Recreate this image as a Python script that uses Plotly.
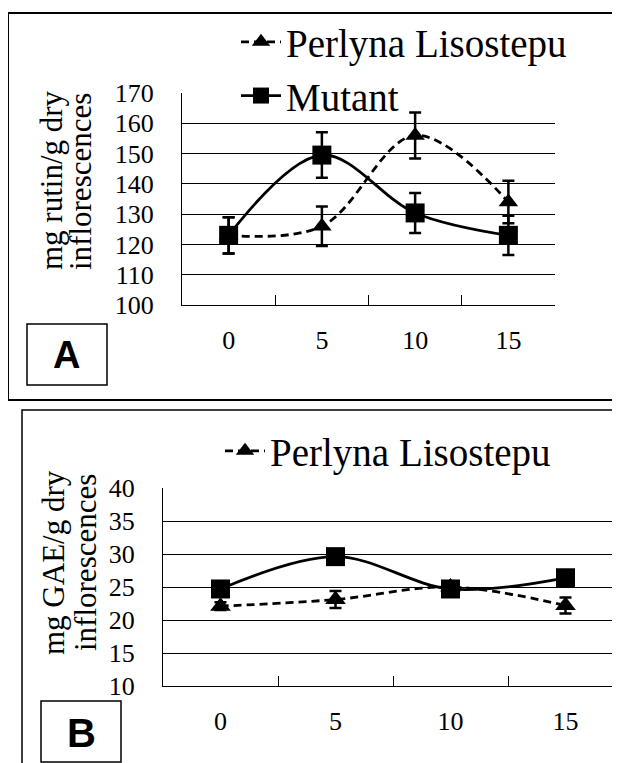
import plotly.graph_objects as go

W, H = 620, 763
OFF = 8  # page body margin of the html page

# ---- data ----
days = ["0", "5", "10", "15"]

# Panel A: mg rutin / g dry inflorescences
rutin_perlyna = [123, 126, 156, 134]
rutin_perlyna_err = [6, 6.5, 7.6, 7]
rutin_mutant = [123, 149.5, 130.4, 123]
rutin_mutant_err = [6, 7.5, 6.6, 6.5]

# Panel B: mg GAE / g dry inflorescences
gae_perlyna = [22.1, 23.1, 25.0, 22.2]
gae_perlyna_err = [0.6, 1.3, 0.5, 1.2]
gae_mutant = [24.7, 29.6, 24.7, 26.4]
gae_mutant_err = [0.8, 1.0, 0.8, 0.8]

a_ticks = [100, 110, 120, 130, 140, 150, 160, 170]
b_ticks = [10, 15, 20, 25, 30, 35, 40]

SERIF = "Liberation Serif"
SANS = "Liberation Sans"


def px(x):
    return (x - OFF) / W


def py(y):
    return 1 - (y - OFF) / H


fig = go.Figure()

LW = 2.8
err_style = dict(type="data", thickness=2.5, width=6, color="black", visible=True)

fig.add_trace(go.Scatter(
    x=days, y=rutin_perlyna, name="Perlyna Lisostepu", mode="lines+markers",
    line=dict(color="black", width=LW, dash="8px,5px", shape="spline"),
    marker=dict(symbol="triangle-up", size=17, color="black"),
    error_y=dict(array=rutin_perlyna_err, **err_style),
    xaxis="x", yaxis="y", legend="legend", legendgroup="p"))
fig.add_trace(go.Scatter(
    x=days, y=rutin_mutant, name="Mutant", mode="lines+markers",
    line=dict(color="black", width=LW, shape="spline"),
    marker=dict(symbol="square", size=19, color="black"),
    error_y=dict(array=rutin_mutant_err, **err_style),
    xaxis="x", yaxis="y", legend="legend", legendgroup="m"))

fig.add_trace(go.Scatter(
    x=days, y=gae_perlyna, name="Perlyna Lisostepu", mode="lines+markers",
    line=dict(color="black", width=LW, dash="8px,5px", shape="spline"),
    marker=dict(symbol="triangle-up", size=18, color="black"),
    error_y=dict(array=gae_perlyna_err, **err_style),
    xaxis="x2", yaxis="y2", legend="legend2"))
fig.add_trace(go.Scatter(
    x=days, y=gae_mutant, name="Mutant", mode="lines+markers",
    line=dict(color="black", width=LW, shape="spline"),
    marker=dict(symbol="square", size=19, color="black"),
    error_y=dict(array=gae_mutant_err, **err_style),
    xaxis="x2", yaxis="y2", showlegend=False))

tickfont = dict(family=SERIF, size=26, color="black")

xcommon = dict(type="category", categoryorder="array", categoryarray=days,
               showline=True, linecolor="black", linewidth=1.2, showgrid=False,
               ticks="inside", tickson="boundaries", ticklen=10, tickcolor="black",
               tickwidth=1, tickfont=tickfont, ticklabelstandoff=12, zeroline=False,
               automargin=False, range=[-0.5, 3.5])

fig.update_layout(
    width=W, height=H, margin=dict(l=0, r=0, t=0, b=0, autoexpand=False),
    paper_bgcolor="white", plot_bgcolor="white",
    xaxis=dict(domain=[px(182), px(555)], anchor="y", **xcommon),
    yaxis=dict(domain=[py(305), py(93)], range=[100, 170], anchor="x",
               tickvals=a_ticks, showline=True, linecolor="black", linewidth=1.2,
               ticks="inside", ticklen=8, tickcolor="black", tickfont=tickfont,
               ticklabelstandoff=22, showgrid=False, zeroline=False, automargin=False,
               minor=dict(tickvals=a_ticks[1:-1], showgrid=True, gridcolor="black",
                          gridwidth=1, ticks="")),
    xaxis2=dict(domain=[px(163), px(623)], anchor="y2", **xcommon),
    yaxis2=dict(domain=[py(686), py(488)], range=[10, 40], anchor="x2",
                tickvals=b_ticks, showline=True, linecolor="black", linewidth=1.2,
                ticks="inside", ticklen=8, tickcolor="black", tickfont=tickfont,
                ticklabelstandoff=22, showgrid=False, zeroline=False, automargin=False,
                minor=dict(tickvals=b_ticks[1:-1], showgrid=True, gridcolor="black",
                           gridwidth=1, ticks="")),
    legend=dict(x=px(236), y=py(10), xanchor="left", yanchor="top",
                font=dict(family=SERIF, size=39, color="black"),
                bgcolor="rgba(0,0,0,0)", tracegroupgap=0, itemwidth=40),
    legend2=dict(x=px(220), y=py(419), xanchor="left", yanchor="top",
                 font=dict(family=SERIF, size=39, color="black"),
                 bgcolor="rgba(0,0,0,0)", itemwidth=40),
    showlegend=True,
)

# panel frames and letter boxes
shapes = [
    dict(type="rect", xref="paper", yref="paper", x0=px(8), x1=1.05, y0=py(400), y1=py(13),
         line=dict(color="black", width=2)),
    dict(type="rect", xref="paper", yref="paper", x0=px(22), x1=1.05, y0=-0.05, y1=py(410),
         line=dict(color="black", width=1.5)),
    dict(type="rect", xref="paper", yref="paper", x0=px(27), x1=px(107), y0=py(385), y1=py(324),
         line=dict(color="black", width=1.5)),
    dict(type="rect", xref="paper", yref="paper", x0=px(41), x1=px(121), y0=py(762), y1=py(701),
         line=dict(color="black", width=1.5)),
]
fig.update_layout(shapes=shapes)

ann_font = dict(family=SERIF, size=31, color="black")
common_ann = dict(xref="paper", yref="paper", showarrow=False,
                  xanchor="center", yanchor="middle")
annotations = [
    dict(text="mg rutin/g dry", x=px(51), y=py(180), textangle=-90, font=ann_font, **common_ann),
    dict(text="inflorescences", x=px(81), y=py(182), textangle=-90, font=ann_font, **common_ann),
    dict(text="mg GAE/g dry", x=px(53), y=py(563), textangle=-90, font=ann_font, **common_ann),
    dict(text="inflorescences", x=px(85), y=py(563), textangle=-90, font=ann_font, **common_ann),
    dict(text="<b>A</b>", x=px(67), y=py(355), font=dict(family=SANS, size=38, color="black"),
         **common_ann),
    dict(text="<b>B</b>", x=px(81), y=py(733), font=dict(family=SANS, size=40, color="black"),
         **common_ann),
]
fig.update_layout(annotations=annotations)

fig.write_html("out.html")
